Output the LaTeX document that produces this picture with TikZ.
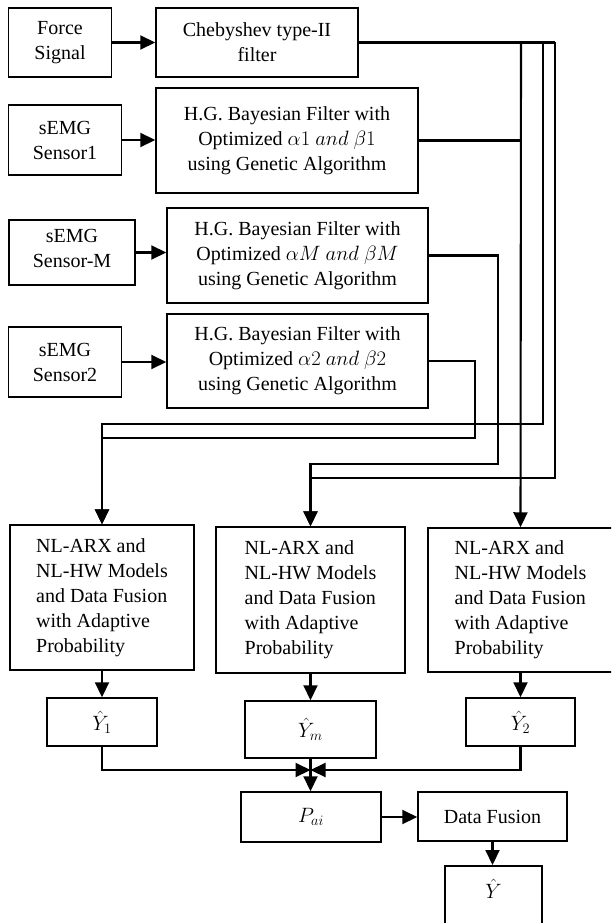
\documentclass[tikz,border=0pt]{standalone}
\usepackage{fontspec}
\setmainfont{Liberation Serif}
\usetikzlibrary{arrows.meta}

\begin{document}
\begin{tikzpicture}[x=1pt,y=-1pt]
\tikzstyle{block}=[rectangle, draw=black, line width=1.5pt, inner sep=2pt,
	align=center, font=\fontsize{20}{25}\selectfont]
\tikzstyle{model}=[block, align=left, minimum height=145pt]
\tikzstyle{wire}=[line width=2.1pt]
\tikzstyle{feed}=[wire, -{Triangle[length=15pt,width=14pt]}]
\useasboundingbox (0,0) rectangle (611,923);
\clip (0,0) rectangle (611,923);
\node[block, minimum width=103pt, minimum height=69pt] (force) at (60,42.5) {Force\\Signal};
\node[block, minimum width=202pt, minimum height=69pt] (cheb) at (257,42.5) {Chebyshev type-II\\filter};
\node[block, minimum width=113pt, minimum height=70pt] (sens1) at (65,140) {sEMG\\Sensor1};
\node[block, minimum width=262pt, minimum height=105pt] (hg1) at (287,140.5) {H.G. Bayesian Filter with\\Optimized $\alpha1\ and\ \beta1$\\using Genetic Algorithm};
\node[block, minimum width=126pt, minimum height=65pt, text depth=8pt] (sensM) at (72,252.5) {sEMG\\Sensor-M};
\node[block, minimum width=261pt, minimum height=95pt] (hgM) at (297.5,255.5) {H.G. Bayesian Filter with\\Optimized $\alpha M\ and\ \beta M$\\using Genetic Algorithm};
\node[block, minimum width=113pt, minimum height=70pt] (sens2) at (65,362) {sEMG\\Sensor2};
\node[block, minimum width=261pt, minimum height=94pt] (hg2) at (297.5,361) {H.G. Bayesian Filter with\\Optimized $\alpha2\ and\ \beta2$\\using Genetic Algorithm};
\node[model, minimum width=184pt] (nl1) at (102,597.5) {NL-ARX and\\NL-HW Models\\and Data Fusion\\with Adaptive\\Probability};
\node[model, minimum width=189pt, minimum height=146pt] (nlm) at (310.5,600) {NL-ARX and\\NL-HW Models\\and Data Fusion\\with Adaptive\\Probability};
\node[model, minimum width=185pt, minimum height=144pt] (nl2) at (520.5,600) {NL-ARX and\\NL-HW Models\\and Data Fusion\\with Adaptive\\Probability};
\node[block, minimum width=110pt, minimum height=48pt] (y1) at (102,722) {$\hat{Y}_1$};
\node[block, minimum width=131pt, minimum height=57pt] (ym) at (310.5,729.5) {$\hat{Y}_m$};
\node[block, minimum width=109pt, minimum height=48pt] (y2) at (520.5,722) {$\hat{Y}_2$};
\node[block, minimum width=140pt, minimum height=50pt] (pai) at (311,817) {$P_{ai}$};
\node[block, minimum width=149pt, minimum height=49pt] (fus) at (492.5,816.5) {Data Fusion};
\node[block, minimum width=97pt, text height=27pt, text depth=45pt, inner ysep=6pt, anchor=north] (yhat) at (493.5,865) {$\hat{Y}$};
\coordinate (ra) at (521,42.5);
\coordinate (rb) at (543,42.5);
\coordinate (rc) at (555,42.5);
\coordinate (mj) at (310.5,770);
\path[feed] (force) edge (cheb);
\draw[feed] (sens1.east) -- (sens1.east -| hg1.west);
\draw[feed] (sensM.east) -- (sensM.east -| hgM.west);
\draw[feed] (sens2.east) -- (sens2.east -| hg2.west);
\draw[wire] (cheb.east) -- (rc);
\draw[feed] (ra) -- (nl2.north);
\draw[feed] (rb) -- (543,424) -| (nl1.north);
\draw[feed] (rc) -- (555,478) -| (nlm.north);
\draw[wire] (hg1.east) -- (hg1.east -| ra);
\draw[feed] (hgM.east) -- (498,255.5) -- (498,464) -| (nlm.north);
\draw[feed] (hg2.east) -- (475,361) -- (475,438) -| (nl1.north);
\path[feed] (nl1) edge (y1);
\path[feed] (nlm) edge (ym);
\path[feed] (nl2) edge (y2);
\draw[feed] (y1.south) |- (mj);
\draw[feed] (y2.south) |- (mj);
\draw[feed] (ym.south) -- (ym.south |- pai.north);
\draw[feed] (pai.east) -- (pai.east -| fus.west);
\draw[feed] (fus.south) -- (fus.south |- yhat.north);
\end{tikzpicture}
\end{document}
